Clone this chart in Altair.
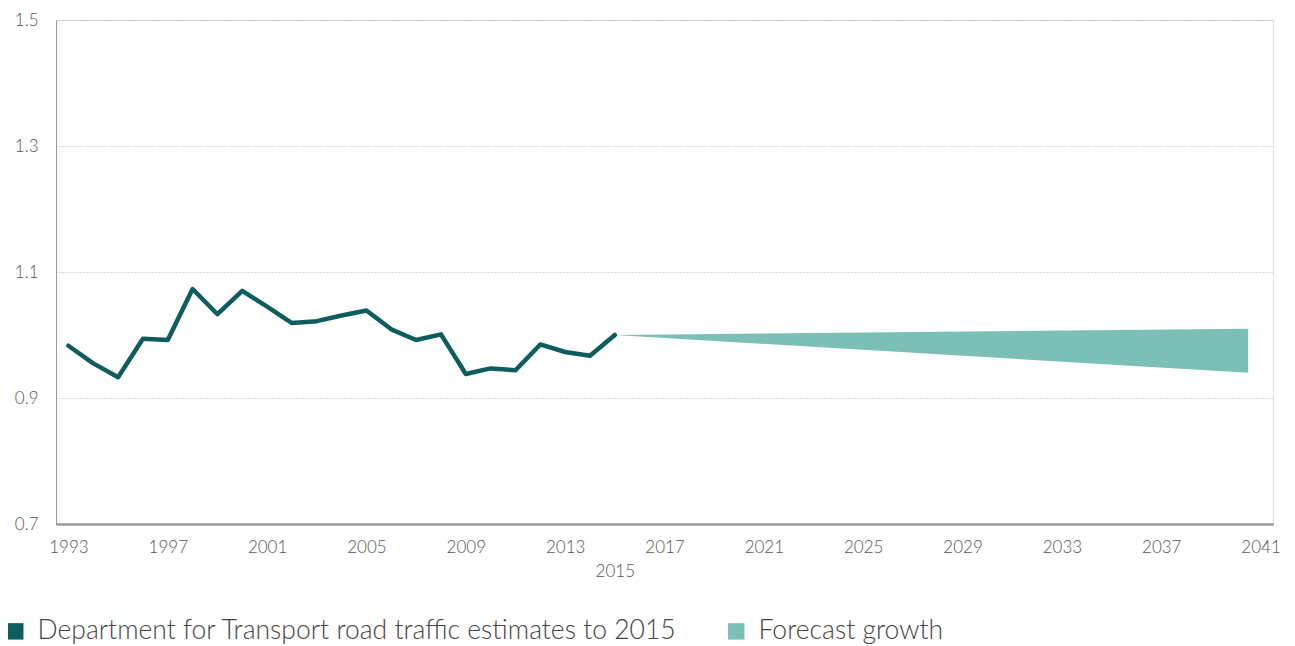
import altair as alt
import pandas as pd

# Historic road traffic index (Department for Transport estimates)
years = list(range(1993, 2016))
traffic = [0.983, 0.955, 0.933, 0.994, 0.992, 1.073, 1.033, 1.070, 1.045, 1.019,
           1.022, 1.031, 1.039, 1.009, 0.992, 1.001, 0.938, 0.947, 0.944, 0.985,
           0.973, 0.967, 1.000]

# Forecast growth range
fc_years = [2015, 2040.5]
fc_upper = [1.000, 1.010]
fc_lower = [1.000, 0.940]

series_names = ["Department for Transport road traffic estimates to 2015", "Forecast growth"]
series_colors = ["#0d5c5e", "#7cbfb6"]

x_ticks = [1993, 1997, 2001, 2005, 2009, 2013, 2015, 2017, 2021, 2025, 2029, 2033, 2037, 2041]
y_ticks = [0.7, 0.9, 1.1, 1.3, 1.5]

hist = pd.DataFrame({"year": years, "value": traffic, "series": series_names[0]})
fc = pd.DataFrame({"year": fc_years, "upper": fc_upper, "lower": fc_lower, "series": series_names[1]})

FONT = "Lato"

x_scale = alt.Scale(domain=[1992.5, 2041.5], nice=False, zero=False)
y_scale = alt.Scale(domain=[0.7, 1.5], nice=False, zero=False)

x_axis = alt.Axis(
    values=x_ticks,
    labelExpr="datum.value == 2015 ? ['', '2015'] : '' + datum.value",
    labelOverlap=False, labelFlush=False, ticks=False, grid=False,
    labelFont=FONT, labelFontSize=17, labelFontWeight=300, labelColor="#555555",
    labelPadding=15, labelLineHeight=24,
    domainColor="#9a9a9a", domainWidth=2.5, title=None,
)
y_axis = alt.Axis(
    values=y_ticks, format=".1f", ticks=False, grid=True,
    gridColor="#b0b0b0", gridDash=[1, 2], gridWidth=1,
    labelFont=FONT, labelFontSize=17, labelFontWeight=300, labelColor="#555555",
    labelPadding=18, domainColor="#9a9a9a", domainWidth=1, title=None,
)

area = alt.Chart(fc).mark_area(opacity=1).encode(
    x=alt.X("year:Q", scale=x_scale, axis=x_axis),
    y=alt.Y("upper:Q", scale=y_scale, axis=y_axis),
    y2="lower:Q",
    color=alt.Color(
        "series:N",
        scale=alt.Scale(domain=series_names, range=series_colors),
        legend=alt.Legend(
            orient="none", legendX=-54, legendY=598, direction="horizontal",
            title=None, symbolType="square", symbolSize=270, symbolStrokeWidth=0,
            labelFont=FONT, labelFontSize=26.5, labelFontWeight=300, labelColor="#444444",
            columnPadding=46, padding=0, labelOffset=9, labelLimit=900,
        ),
    ),
)

line = alt.Chart(hist).mark_line(strokeWidth=4.5, strokeJoin="round", strokeCap="round",
                                 color=series_colors[0]).encode(
    x=alt.X("year:Q", scale=x_scale),
    y=alt.Y("value:Q", scale=y_scale),
)

chart = alt.layer(area, line).properties(
    width=1217, height=504,
    padding={"left": 48, "top": 12, "right": 14, "bottom": 120},
    autosize=alt.AutoSizeParams(type="none"),
).configure_view(stroke=None).configure(background="white")

chart.save("out.html", embed_options={"renderer": "svg", "actions": False})
